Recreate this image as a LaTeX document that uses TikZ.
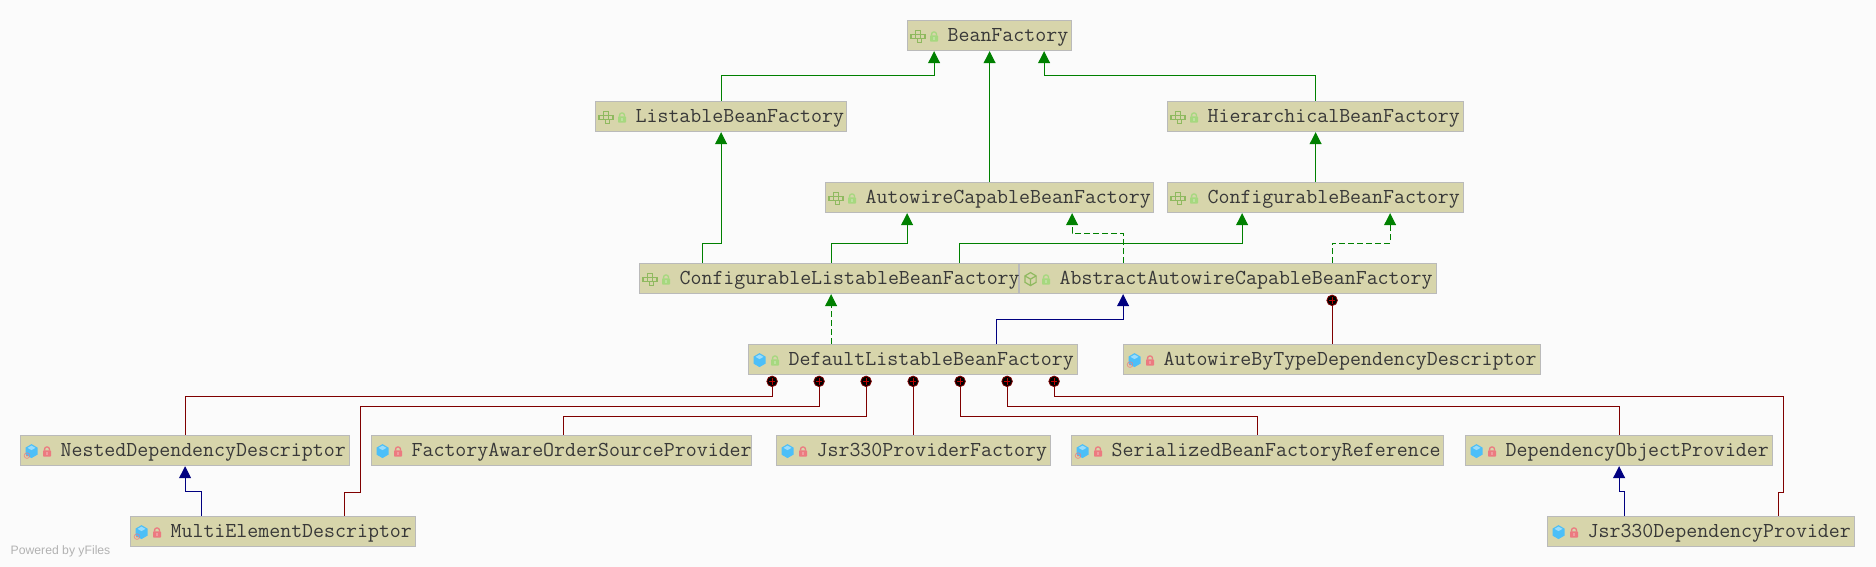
\documentclass[tikz,border=0pt]{standalone}
\usepackage{fontspec}
\newfontfamily\yfilesfont{Liberation Sans}
\usepackage{tikz}
\usetikzlibrary{calc, arrows.meta}

\definecolor{pagebg}{HTML}{FBFBFB}
\definecolor{boxfill}{HTML}{D7D5AB}
\definecolor{boxline}{HTML}{BABABA}
\definecolor{boxtext}{HTML}{383838}
\definecolor{extgreen}{HTML}{008000}
\definecolor{implnavy}{HTML}{000080}
\definecolor{innerred}{HTML}{7F0000}
\definecolor{iconolive}{HTML}{8FB95F}
\definecolor{lockgreen}{HTML}{A6D87F}
\definecolor{lockred}{HTML}{EC7A80}
\definecolor{cubeblue}{HTML}{4CBFF8}
\definecolor{cubetop}{HTML}{9ADCFB}

\newcommand{\classlabel}[2]{\makebox[\dimexpr #1pt-1pt\relax][l]{\hspace{40pt}\raisebox{-1pt}{#2\vphantom{Ay}}}}

\tikzset{
  classbox/.style={draw=boxline, fill=boxfill, line width=1.2pt, anchor=north west,
    inner xsep=0pt, inner ysep=0pt, minimum height=30pt, text height=14pt, text depth=5pt, text=boxtext,
    font=\ttfamily\fontsize{21.3}{23}\selectfont},
  extline/.style={draw=extgreen, line width=1pt, -{Triangle[length=12pt,width=12pt]}},
  extdash/.style={extline, dash pattern=on 6pt off 3pt},
  implline/.style={draw=implnavy, line width=1pt, -{Triangle[length=12pt,width=12pt]}},
  innerline/.style={draw=innerred, line width=1pt},
  innerdot/.style={circle, draw=innerred, fill=black, line width=.8pt, inner sep=0pt,
    minimum size=10.5pt, anchor=north, yshift=-.5pt, path picture={
      \draw[red!75!black, line width=.8pt]
        ([yshift=-2pt]path picture bounding box.north) -- ([yshift=2pt]path picture bounding box.south)
        ([xshift=2pt]path picture bounding box.west) -- ([xshift=-2pt]path picture bounding box.east);}},
  pics/lockicon/.style={code={
    \draw[#1, line width=1.3pt, rounded corners=2pt] (-2.4,-1) -- (-2.4,-4.6) -- (2.4,-4.6) -- (2.4,-1);
    \fill[#1, rounded corners=.8pt] (-4,-1.2) rectangle (4,5);
    \fill[white, opacity=.25] (-.8,.8) rectangle (.8,3);
  }},
  pics/ifaceicon/.style={code={
    \draw[iconolive, line width=1.1pt]
      (-7,-2) rectangle (-2.4,2.2) (-2.4,-2) rectangle (2.2,2.2) (2.2,-2) rectangle (7,2.2)
      (-2.4,-6) rectangle (2.2,-2) (-.4,2.2) rectangle (3.6,6.4);
  }},
  pics/cubeicon/.style={code={
    \fill[cubeblue] (0,-7) -- (6,-3.5) -- (6,3.5) -- (0,7) -- (-6,3.5) -- (-6,-3.5) -- cycle;
    \fill[cubetop] (0,-5.5) -- (4,-3.2) -- (0,-1) -- (-4,-3.2) -- cycle;
  }},
  pics/absicon/.style={code={
    \draw[iconolive, line width=1.2pt] (0,-6.5) -- (5.6,-3.2) -- (5.6,3.2) -- (0,6.5) -- (-5.6,3.2) -- (-5.6,-3.2) -- cycle;
    \draw[iconolive, line width=1.2pt] (-5.6,-3.2) -- (0,0) -- (5.6,-3.2) (0,0) -- (0,6.5);
  }},
  pics/badgeicon/.style={code={
    \draw[lockred, line width=.7pt, opacity=.8] (0,0) circle (2.8pt);
    \fill[lockred] (0,0) circle (1pt);
  }},
}

\begin{document}
\begin{tikzpicture}[x=1pt, y=-1pt, >=Latex]

\useasboundingbox (0,0) rectangle (1876,567);
\fill[pagebg] (0,0) rectangle (1876,567);

% interfaces
\node[classbox] (BeanFactory) at (907,20) {\classlabel{165}{BeanFactory}};
\node[classbox] (ListableFactory) at (595,101) {\classlabel{252}{ListableBeanFactory}};
\node[classbox] (HierarchicalFactory) at (1167,101) {\classlabel{297}{HierarchicalBeanFactory}};
\node[classbox] (AutowireCapable) at (825,182) {\classlabel{329}{AutowireCapableBeanFactory}};
\node[classbox] (ConfigurableFactory) at (1167,182) {\classlabel{297}{ConfigurableBeanFactory}};
\node[classbox] (ConfigListable) at (639,263) {\classlabel{380}{ConfigurableListableBeanFactory}};

% classes
\node[classbox] (AbstractAutowire) at (1019,263) {\classlabel{418}{AbstractAutowireCapableBeanFactory}};
\node[classbox] (DefaultListable) at (748,344) {\classlabel{330}{DefaultListableBeanFactory}};
\node[classbox] (AutowireByType) at (1123,344) {\classlabel{418}{AutowireByTypeDependencyDescriptor}};
\node[classbox] (NestedDescriptor) at (20,435) {\classlabel{330}{NestedDependencyDescriptor}};
\node[classbox] (FactoryAware) at (371,435) {\classlabel{381}{FactoryAwareOrderSourceProvider}};
\node[classbox] (ProviderFactory) at (776,435) {\classlabel{275}{Jsr330ProviderFactory}};
\node[classbox] (SerializedRef) at (1071,435) {\classlabel{373}{SerializedBeanFactoryReference}};
\node[classbox] (ObjectProvider) at (1465,435) {\classlabel{308}{DependencyObjectProvider}};
\node[classbox] (MultiElement) at (130,516) {\classlabel{286}{MultiElementDescriptor}};
\node[classbox] (DependencyProvider) at (1547,516) {\classlabel{308}{Jsr330DependencyProvider}};

% icons
\foreach \boxname in {BeanFactory, ListableFactory, HierarchicalFactory, AutowireCapable, ConfigurableFactory, ConfigListable} {
  \pic at ([xshift=11pt, yshift=-.5pt]\boxname.west) {ifaceicon};
  \pic at ([xshift=27pt, yshift=-1pt]\boxname.west) {lockicon=lockgreen};
}
\pic at ([xshift=11.5pt, yshift=-.5pt]AbstractAutowire.west) {absicon};
\pic at ([xshift=27pt, yshift=-1pt]AbstractAutowire.west) {lockicon=lockgreen};
\pic at ([xshift=11.5pt, yshift=-.5pt]DefaultListable.west) {cubeicon};
\pic at ([xshift=27pt, yshift=-1pt]DefaultListable.west) {lockicon=lockgreen};
\foreach \boxname in {AutowireByType, NestedDescriptor, FactoryAware, ProviderFactory, SerializedRef, ObjectProvider, MultiElement, DependencyProvider} {
  \pic at ([xshift=11.5pt, yshift=-.5pt]\boxname.west) {cubeicon};
  \pic at ([xshift=27pt, yshift=-1pt]\boxname.west) {lockicon=lockred};
}
\foreach \boxname in {AutowireByType, NestedDescriptor, SerializedRef, MultiElement} {
  \pic at ([xshift=7pt, yshift=-5pt]\boxname.west) {badgeicon};
}

% inner class dots
\path (AbstractAutowire.south) ++(104,0) node[innerdot] (AbstractDot) {};
\path (DefaultListable.south) ++(-141,0) node[innerdot] (DefaultDotA) {};
\path (DefaultListable.south) ++(-94,0) node[innerdot] (DefaultDotB) {};
\path (DefaultListable.south) ++(-47,0) node[innerdot] (DefaultDotC) {};
\path (DefaultListable.south) ++(0,0) node[innerdot] (DefaultDotD) {};
\path (DefaultListable.south) ++(47,0) node[innerdot] (DefaultDotE) {};
\path (DefaultListable.south) ++(94,0) node[innerdot] (DefaultDotF) {};
\path (DefaultListable.south) ++(141,0) node[innerdot] (DefaultDotG) {};

% extends
\draw[extline] (ListableFactory.north) -- ++(0,-25) -| ([xshift=-55.5]BeanFactory.south);
\draw[extline] (HierarchicalFactory.north) -- ++(0,-25) -| ([xshift=54.5]BeanFactory.south);
\draw[extline] (AutowireCapable.north) -- (BeanFactory.south);
\draw[extline] (ConfigurableFactory.north) -- (HierarchicalFactory.south);
\draw[extline] ([xshift=-127]ConfigListable.north) -- ++(0,-20) -| (ListableFactory.south);
\draw[extline] ([xshift=2]ConfigListable.north) -- ++(0,-20) -| ([xshift=-82.5]AutowireCapable.south);
\draw[extline] ([xshift=130]ConfigListable.north) -- ++(0,-20) -| ([xshift=-73.5]ConfigurableFactory.south);

% implements
\draw[extdash] ([xshift=-105]AbstractAutowire.north) -- ++(0,-30) -| ([xshift=82.5]AutowireCapable.south);
\draw[extdash] ([xshift=104]AbstractAutowire.north) -- ++(0,-20) -| ([xshift=74.5]ConfigurableFactory.south);
\draw[extdash] ([xshift=-82]DefaultListable.north) -- ([xshift=2]ConfigListable.south);
\draw[implline] ([xshift=83]DefaultListable.north) -- ++(0,-24.5) -| ([xshift=-105]AbstractAutowire.south);

% inner classes
\draw[innerline] (AbstractDot.south) -- (AutowireByType.north);
\draw[innerline] (DefaultDotA.south) -- ++(0,9) -| (NestedDescriptor.north);
\draw[innerline] (DefaultDotB.south) -- ++(0,19) -| ++(-459,86) -| ([xshift=71]MultiElement.north);
\draw[innerline] (DefaultDotC.south) -- ++(0,29) -| ([xshift=1.5]FactoryAware.north);
\draw[innerline] (DefaultDotD.south) -- (DefaultDotD.south |- ProviderFactory.north);
\draw[innerline] (DefaultDotE.south) -- ++(0,29) -| (SerializedRef.north);
\draw[innerline] (DefaultDotF.south) -- ++(0,19) -| (ObjectProvider.north);
\draw[innerline] (DefaultDotG.south) -- ++(0,9) -| ++(729,96) -| ([xshift=77]DependencyProvider.north);

% nested subclasses
\draw[implline] ([xshift=-72]MultiElement.north) -- ++(0,-25) -| (NestedDescriptor.south);
\draw[implline] ([xshift=-77]DependencyProvider.north) -- ++(0,-25) -| (ObjectProvider.south);

% watermark
\node[anchor=west, text=black!30, font=\yfilesfont\fontsize{12.2}{14}\selectfont, inner sep=0pt] (poweredby) at (10.5,551) {Powered by yFiles};

\end{tikzpicture}
\end{document}
